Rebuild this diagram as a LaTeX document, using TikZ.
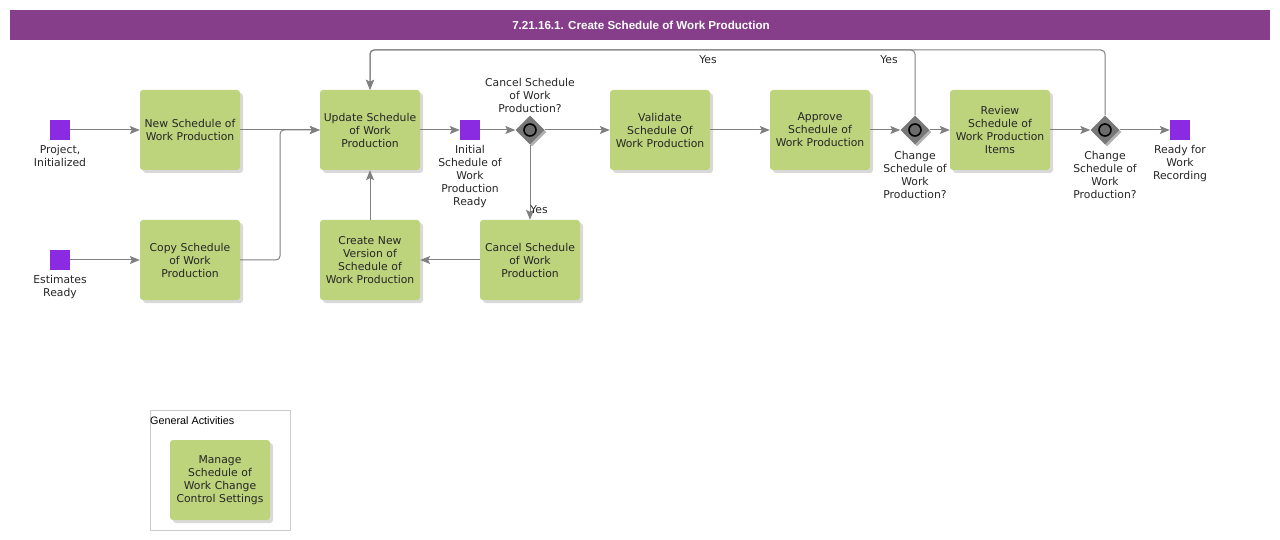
\documentclass[tikz,border=0pt]{standalone}
\usepackage{fontspec}
\setmainfont{DejaVu Sans}
\newfontfamily\titlefont{Liberation Sans}
\usepackage{tikz}
\usetikzlibrary{positioning, arrows.meta, shapes.geometric, shadows}
\definecolor{titlepurple}{RGB}{135, 62, 138}
\definecolor{taskgreen}{RGB}{189, 211, 124}
\definecolor{eventpurple}{RGB}{138, 43, 226}
\definecolor{flowgray}{RGB}{128, 128, 128}
\definecolor{gategray}{RGB}{120, 120, 120}

\tikzset{
  task/.style={fill=taskgreen, rounded corners=3pt, minimum width=100pt, minimum height=80pt,
    text width=100pt, align=center, inner sep=0pt, font=\fontsize{10.8}{13}\selectfont, text=black!85,
    drop shadow={shadow xshift=3pt, shadow yshift=-3pt, fill=black, opacity=0.15}},
  event/.style={fill=eventpurple, minimum size=20pt, inner sep=0pt},
  gateway/.style={diamond, fill=gategray, minimum size=29pt, inner sep=0pt,
    drop shadow={shadow xshift=2pt, shadow yshift=-2pt, fill=black, opacity=0.3},
    path picture={\draw[line width=1.6pt, fill=gategray!90!black] (path picture bounding box.center) circle (6pt);}},
  lbl/.style={align=center, inner sep=0pt, font=\fontsize{10.8}{13}\selectfont, text=black!85},
  flow/.style={draw=flowgray, line width=1pt, rounded corners=4pt,
    -{Stealth[length=10pt, width=8pt, inset=2pt]}}
}

\begin{document}
\begin{tikzpicture}[x=1pt, y=-1pt]
\useasboundingbox (0,0) rectangle (1280,540);
% title bar
\fill[titlepurple] (10,10) rectangle (1270,40);
\node[text=white, font=\titlefont\bfseries\fontsize{11.6}{13}\selectfont] (title) at (641,25) {7.21.16.1. Create Schedule of Work Production};

% events
\node[event] (start1) at (60,130) {};
\node[lbl, below=5pt of start1] (start1txt) {Project,\\Initialized};
\node[event] (start2) at (60,260) {};
\node[lbl, below=5pt of start2] (start2txt) {Estimates\\Ready};
\node[event] (initready) at (470,130) {};
\node[lbl, below=5pt of initready] (initreadytxt) {Initial\\Schedule of\\Work\\Production\\Ready};
\node[event] (endready) at (1180,130) {};
\node[lbl, below=5pt of endready] (endreadytxt) {Ready for\\Work\\Recording};

% tasks
\node[task] (newsched) at (190,130) {New Schedule of\\Work Production};
\node[task] (copysched) at (190,260) {Copy Schedule\\of Work\\Production};
\node[task] (updsched) at (370,130) {Update Schedule\\of Work\\Production};
\node[task] (newversion) at (370,260) {Create New\\Version of\\Schedule of\\Work Production};
\node[task] (cancelsched) at (530,260) {Cancel Schedule\\of Work\\Production};
\node[task] (validsched) at (660,130) {Validate\\Schedule Of\\Work Production};
\node[task] (apprsched) at (820,130) {Approve\\Schedule of\\Work Production};
\node[task] (reviewitems) at (1000,130) {Review\\Schedule of\\Work Production\\Items};

% gateways
\node[gateway] (gcancel) at (530,130) {};
\node[lbl, above=2pt of gcancel] (gcanceltxt) {Cancel Schedule\\of Work\\Production?};
\node[gateway] (gchange1) at (915,130) {};
\node[lbl, below=6pt of gchange1] (gchange1txt) {Change\\Schedule of\\Work\\Production?};
\node[gateway] (gchange2) at (1105,130) {};
\node[lbl, below=6pt of gchange2] (gchange2txt) {Change\\Schedule of\\Work\\Production?};

% flows
\coordinate (merge) at (280,130);
\coordinate (loop) at (370,50);
\draw[flow] (start1) -- (newsched);
\draw[flow] (start2) -- (copysched);
\draw[flow] (newsched) -- (updsched);
\draw[flow] (copysched.east) -| (merge) -- (updsched.west);
\draw[flow] (updsched) -- (initready);
\draw[flow] (initready) -- (gcancel);
\draw[flow] (gcancel) -- (validsched);
\draw[flow] (gcancel) -- (cancelsched);
\draw[flow] (cancelsched) -- (newversion);
\draw[flow] (newversion) -- (updsched);
\draw[flow] (validsched) -- (apprsched);
\draw[flow] (apprsched) -- (gchange1);
\draw[flow] (gchange1) -- (reviewitems);
\draw[flow] (reviewitems) -- (gchange2);
\draw[flow] (gchange2) -- (endready);
\draw[flow] (gchange1.north) |- (loop) -- (updsched.north);
\draw[flow] (gchange2.north) |- (loop) -- (updsched.north);
\node[lbl] (yes1) at (539,210) {Yes};
\node[lbl] (yes2) at (708,60) {Yes};
\node[lbl] (yes3) at (889,60) {Yes};

% general activities
\draw[gray!40] (150,410) rectangle (290,530);
\node[anchor=west, inner sep=0pt, font=\titlefont\fontsize{10.8}{12}\selectfont] (gentxt) at (150,421) {General Activities};
\node[task] (managesettings) at (220,480) {Manage\\Schedule of\\Work Change\\Control Settings};
\end{tikzpicture}
\end{document}
